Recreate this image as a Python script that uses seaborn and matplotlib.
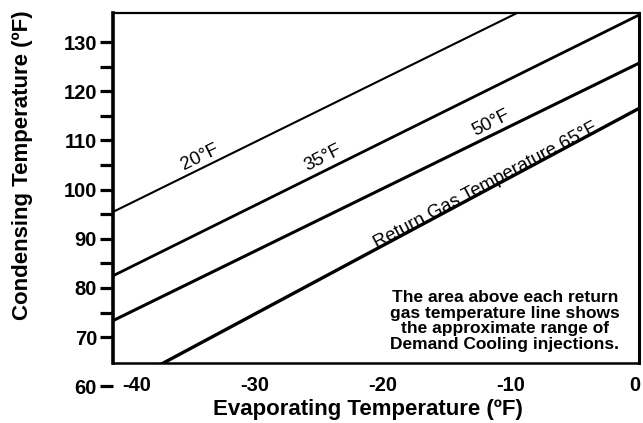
import pandas as pd
import seaborn as sns
import matplotlib.pyplot as plt
from matplotlib.patches import Rectangle
from matplotlib.ticker import FixedLocator
from matplotlib.transforms import ScaledTranslation

# Return gas temperature lines (end points, clipped by the frame)
evap_temp = [-42, 0]
line_20 = [94.3, 148.1]
line_35 = [81.3, 135.5]
line_50 = [72.2, 125.7]
line_65 = [58.0, 116.5]

x_ticks = [-40, -30, -20, -10, 0]
x_tick_labels = ["-40", "-30", "-20", "-10", "0"]
y_ticks = [60, 70, 80, 90, 100, 110, 120, 130]
y_minor = [75, 85, 95, 105, 115, 125]

X_MIN, X_MAX = -41.1, 0
Y_FRAME, Y_MAX = 64.7, 135.9


def main() -> None:
    sns.set_style("white")
    plt.rcParams["font.family"] = ["Liberation Sans", "DejaVu Sans"]
    for key in ["text.color", "axes.labelcolor", "xtick.color", "ytick.color"]:
        plt.rcParams[key] = "black"

    fig = plt.figure(figsize=(6.43, 4.23), dpi=100)
    ax = fig.add_axes([0.1757, 0.0868, 0.8181, 0.8825])

    series = {
        "20°F": (line_20, 1.5),
        "35°F": (line_35, 2.0),
        "50°F": (line_50, 2.2),
        "65°F": (line_65, 2.4),
    }
    clip = Rectangle((X_MIN, Y_FRAME), X_MAX - X_MIN, Y_MAX - Y_FRAME,
                     transform=ax.transData, facecolor="none", edgecolor="none")
    for name, (vals, lw) in series.items():
        df = pd.DataFrame({"evap": evap_temp, "cond": vals})
        sns.lineplot(data=df, x="evap", y="cond", color="black", linewidth=lw, ax=ax)
        ax.lines[-1].set_clip_path(clip)

    ax.set_xlim(X_MIN, X_MAX)
    ax.set_ylim(60, Y_MAX)

    # spines: bottom frame sits above the 60 tick
    ax.spines["bottom"].set_position(("data", Y_FRAME))
    ax.spines["left"].set_bounds(Y_FRAME, Y_MAX)
    ax.spines["right"].set_bounds(Y_FRAME, Y_MAX)
    for side, lw in [("left", 2.6), ("right", 2.2), ("top", 1.6), ("bottom", 1.8)]:
        ax.spines[side].set_linewidth(lw)
        ax.spines[side].set_color("black")

    ax.set_xticks(x_ticks)
    ax.set_xticklabels(x_tick_labels)
    ax.set_yticks(y_ticks)
    ax.yaxis.set_minor_locator(FixedLocator(y_minor))
    ax.tick_params(axis="x", length=0, pad=9, labelsize=14.5)
    ax.tick_params(axis="y", which="both", direction="out", length=9.5,
                   width=2.3, pad=2, labelsize=14.5, left=True)
    for lab in ax.get_xticklabels() + ax.get_yticklabels():
        lab.set_fontweight("bold")
    labels = ax.get_xticklabels()
    labels[0].set_transform(labels[0].get_transform()
                            + ScaledTranslation(0.10, 0, fig.dpi_scale_trans))
    labels[-1].set_transform(labels[-1].get_transform()
                             + ScaledTranslation(-0.04, 0, fig.dpi_scale_trans))

    ax.set_xlabel("Evaporating Temperature (ºF)", fontsize=16, fontweight="bold")
    ax.set_ylabel("Condensing Temperature (ºF)", fontsize=16, fontweight="bold")
    ax.xaxis.set_label_coords(0.485, -0.033)
    ax.yaxis.set_label_coords(-0.152, 0.593)

    # labels along the lines
    ax.text(-34.3, 106.6, "20°F", rotation=26, fontsize=13.5,
            ha="center", va="center")
    ax.text(-24.7, 106.4, "35°F", rotation=27, fontsize=13.5,
            ha="center", va="center")
    ax.text(-11.6, 113.5, "50°F", rotation=26.5, fontsize=13.5,
            ha="center", va="center")
    ax.text(-12.0, 100.7, "Return Gas Temperature 65°F", rotation=28,
            fontsize=13.5, ha="center", va="center")

    ax.text(0.745, 0.175,
            "The area above each return\ngas temperature line shows\n"
            "the approximate range of\nDemand Cooling injections.",
            transform=ax.transAxes, ha="center", va="center",
            fontsize=12.5, fontweight="bold", linespacing=1.05)

    fig.savefig("out.png", dpi=100)


if __name__ == "__main__":
    main()
